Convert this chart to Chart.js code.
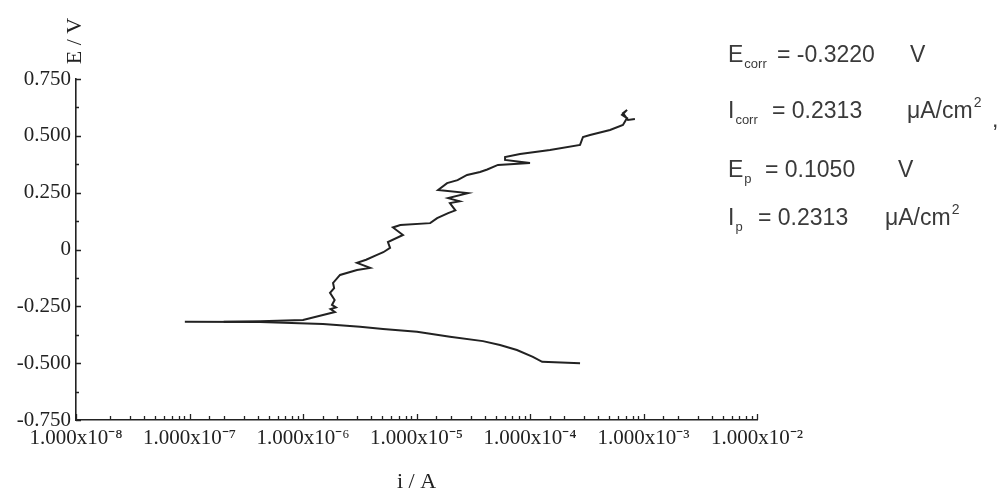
<!DOCTYPE html>
<html>
<head>
<meta charset="utf-8">
<script src="https://cdn.jsdelivr.net/npm/chart.js@4.4.0/dist/chart.umd.min.js"></script>
<style>
  html, body { margin: 0; padding: 0; background: #fff; }
  #wrap { width: 1000px; height: 491px; position: relative; }
</style>
</head>
<body>
<div id="wrap"><canvas id="tafel"></canvas></div>
<script>
// polarisation curve (current in A, potential in V)
var cathodicI = [9.1e-8, 4.18e-7, 1.5e-6, 3.18e-6, 5.07e-6, 1.01e-5, 1.97e-5, 3.85e-5, 5.44e-5, 7.67e-5, 1.06e-4, 1.28e-4, 2.76e-4];
var cathodicE = [-0.318, -0.319, -0.328, -0.340, -0.350, -0.362, -0.384, -0.403, -0.420, -0.442, -0.472, -0.494, -0.500];

var anodicI = [2.0e-7, 4.2e-7, 1.0e-6, 1.5e-6, 1.91e-6, 1.75e-6, 1.95e-6, 1.80e-6, 1.9e-6, 1.73e-6,
               1.88e-6, 1.84e-6, 2.12e-6, 2.99e-6, 3.9e-6, 2.99e-6, 3.6e-6, 4.49e-6, 5.1e-6, 5.85e-6,
               5.6e-6, 7.6e-6, 6.2e-6, 7.2e-6, 1.32e-5, 1.52e-5, 1.90e-5, 2.2e-5, 1.97e-5, 2.4e-5,
               1.90e-5, 2.84e-5, 1.55e-5, 1.86e-5, 2.3e-5, 2.79e-5, 3.63e-5, 4.2e-5, 5.22e-5, 1.0e-4,
               6.03e-5, 6.03e-5, 8.17e-5, 1.5e-4, 2.76e-4, 2.93e-4, 3.38e-4, 5.07e-4, 6.59e-4, 7.16e-4,
               6.47e-4, 7.16e-4, 6.59e-4, 7.3e-4, 8.4e-4];
var anodicE = [-0.318, -0.316, -0.310, -0.288, -0.275, -0.262, -0.255, -0.244, -0.222, -0.191,
               -0.170, -0.147, -0.112, -0.090, -0.081, -0.059, -0.045, -0.024, -0.012, 0.007,
               0.033, 0.064, 0.097, 0.108, 0.116, 0.138, 0.160, 0.172, 0.204, 0.212,
               0.226, 0.248, 0.262, 0.292, 0.305, 0.328, 0.341, 0.352, 0.372, 0.380,
               0.394, 0.407, 0.420, 0.438, 0.460, 0.495, 0.504, 0.526, 0.548, 0.578,
               0.592, 0.614, 0.600, 0.570, 0.574];

var xMin = 1e-8, xMax = 1e-2;
var yMin = -0.75, yMax = 0.75, yStep = 0.125;

// results printed to the right of the plot
var resultLines = [
    { sym: 'E', sub: 'corr', eq: '= -0.3220', eqX: 777, unit: 'V', unitX: 910, base: 62 },
    { sym: 'I', sub: 'corr', eq: '= 0.2313', eqX: 772, unit: 'μA/cm', unitX: 907, base: 118, sup: '2', comma: true },
    { sym: 'E', sub: 'p', eq: '= 0.1050', eqX: 765, unit: 'V', unitX: 898, base: 177 },
    { sym: 'I', sub: 'p', eq: '= 0.2313', eqX: 758, unit: 'μA/cm', unitX: 885, base: 225, sup: '2' }
];

function toPoints(xs, ys) {
    return xs.map(function(v, i) { return { x: v, y: ys[i] }; });
}

var supMap = { '-': '⁻', '0': '⁰', '1': '¹', '2': '²', '3': '³', '4': '⁴', '5': '⁵', '6': '⁶', '7': '⁷', '8': '⁸', '9': '⁹' };
function supText(s) {
    return String(s).split('').map(function(c) { return supMap[c] || c; }).join('');
}

function isDecade(v) {
    var l = Math.log10(v);
    return Math.abs(l - Math.round(l)) < 1e-6;
}

var serif = '"Liberation Serif", "Times New Roman", serif';
var sans = '"Liberation Sans", Arial, sans-serif';
var ink = '#222';

// inward tick marks, like the original plot
var innerTicks = {
    id: 'innerTicks',
    afterDraw: function(chart) {
        var ctx = chart.ctx, xs = chart.scales.x, ys = chart.scales.y, a = chart.chartArea;
        ctx.save();
        ctx.strokeStyle = ink;
        ctx.lineWidth = 1.3;
        ctx.beginPath();
        xs.ticks.forEach(function(t) {
            var px = Math.round(xs.getPixelForValue(t.value)) + 0.5;
            var len = isDecade(t.value) ? 6 : 4;
            ctx.moveTo(px, a.bottom);
            ctx.lineTo(px, a.bottom - len);
        });
        ys.ticks.forEach(function(t, i) {
            var py = Math.round(ys.getPixelForValue(t.value)) + 0.5;
            var len = i % 2 === 0 ? 5 : 3;
            ctx.moveTo(a.left, py);
            ctx.lineTo(a.left + len, py);
        });
        ctx.stroke();

        // y axis title, rotated, above the axis
        ctx.fillStyle = ink;
        ctx.font = '22px ' + serif;
        ctx.textAlign = 'center';
        ctx.textBaseline = 'middle';
        ctx.translate(75, 41);
        ctx.rotate(-Math.PI / 2);
        ctx.fillText('E / V', 0, 0);
        ctx.restore();

        // results block
        ctx.save();
        ctx.fillStyle = '#3a3a3a';
        ctx.textAlign = 'left';
        ctx.textBaseline = 'alphabetic';
        resultLines.forEach(function(r) {
            ctx.font = '23px ' + sans;
            ctx.fillText(r.sym, 728, r.base);
            var w = ctx.measureText(r.sym).width;
            ctx.font = '13px ' + sans;
            ctx.fillText(r.sub, 728 + w + 1, r.base + 6);
            ctx.font = '23px ' + sans;
            ctx.fillText(r.eq, r.eqX, r.base);
            ctx.fillText(r.unit, r.unitX, r.base);
            if (r.sup) {
                var uw = ctx.measureText(r.unit).width;
                ctx.font = '14px ' + sans;
                ctx.fillText(r.sup, r.unitX + uw + 1, r.base - 11);
            }
            if (r.comma) {
                ctx.font = '23px ' + sans;
                ctx.fillText(',', 992, r.base + 9);
            }
        });
        ctx.restore();
    }
};

var ctx = document.getElementById('tafel').getContext('2d');
var tafelChart = new Chart(ctx, {
    type: 'scatter',
    data: {
        datasets: [
            {
                label: 'catódica',
                data: toPoints(cathodicI, cathodicE),
                showLine: true,
                borderColor: ink,
                borderWidth: 2,
                pointRadius: 0,
                tension: 0
            },
            {
                label: 'anódica',
                data: toPoints(anodicI, anodicE),
                showLine: true,
                borderColor: ink,
                borderWidth: 2,
                pointRadius: 0,
                tension: 0
            }
        ]
    },
    options: {
        responsive: true,
        maintainAspectRatio: false,
        animation: false,
        layout: { padding: { top: 79, right: 243, left: 0, bottom: 0 } },
        plugins: {
            legend: { display: false },
            tooltip: { enabled: false }
        },
        scales: {
            x: {
                type: 'logarithmic',
                min: xMin,
                max: xMax,
                afterFit: function(scale) { scale.height = 71; },
                grid: { display: true, drawOnChartArea: false, drawTicks: false },
                border: { display: true, color: ink, width: 1.6 },
                ticks: {
                    autoSkip: false,
                    maxRotation: 0,
                    padding: 6,
                    color: ink,
                    font: { family: serif, size: 21 },
                    callback: function(v) {
                        if (!isDecade(v)) return '';
                        return '1.000x10' + supText(Math.round(Math.log10(v)));
                    }
                },
                title: {
                    display: true,
                    text: 'i / A',
                    color: ink,
                    font: { family: serif, size: 22 },
                    padding: { top: 0, bottom: -4 }
                }
            },
            y: {
                min: yMin,
                max: yMax,
                afterFit: function(scale) { scale.width = 76; },
                grid: { display: true, drawOnChartArea: false, drawTicks: false },
                border: { display: true, color: ink, width: 1.6 },
                ticks: {
                    stepSize: yStep,
                    autoSkip: false,
                    padding: 5,
                    color: ink,
                    font: { family: serif, size: 21 },
                    callback: function(v, i) {
                        if (i % 2 !== 0) return '';
                        if (Math.abs(v) < 1e-9) return '0';
                        return v.toFixed(3);
                    }
                }
            }
        }
    },
    plugins: [innerTicks]
});
</script>
</body>
</html>
